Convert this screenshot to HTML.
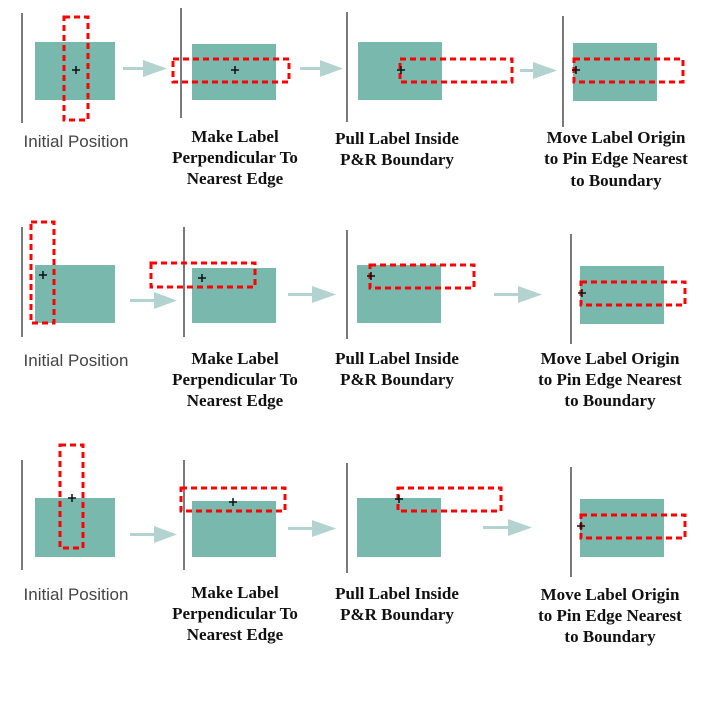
<!DOCTYPE html>
<html><head><meta charset="utf-8"><style>
html,body{margin:0;padding:0;background:#fff;}
svg{display:block;}
.b{stroke:#7a7a7a;stroke-width:2;}
.r{fill:#78b8ad;}
.d{fill:none;stroke:#ff0000;stroke-width:3;stroke-dasharray:6 4;}
.p{stroke:#111;stroke-width:1.5;}
.a{fill:#b3d3d1;}
.s{font-family:"Liberation Sans",sans-serif;font-size:17px;fill:#444;text-anchor:middle;}
.t{font-family:"Liberation Serif",serif;font-weight:bold;font-size:17px;fill:#111;text-anchor:middle;}
</style></head><body>
<svg width="713" height="713" viewBox="0 0 713 713" xmlns="http://www.w3.org/2000/svg">
<defs>
<g id="plus"><line class="p" x1="-4" y1="0" x2="4" y2="0"/><line class="p" x1="0" y1="-4" x2="0" y2="4"/></g>
</defs>
<!-- Row 1 -->
<line class="b" x1="22" y1="13" x2="22" y2="123"/>
<rect class="r" x="35" y="42" width="80" height="58"/>
<rect class="d" x="64" y="17" width="24" height="103"/>
<use href="#plus" x="76" y="70"/>
<rect class="a" x="123" y="67" width="21" height="3"/><polygon class="a" points="143,60 167,68.5 143,77"/>

<line class="b" x1="181" y1="8" x2="181" y2="118"/>
<rect class="r" x="192" y="44" width="84" height="56"/>
<rect class="d" x="173" y="59" width="116" height="23"/>
<use href="#plus" x="235" y="70"/>
<rect class="a" x="300" y="67" width="21" height="3"/><polygon class="a" points="320,60 343,68.5 320,77"/>

<line class="b" x1="347" y1="12" x2="347" y2="122"/>
<rect class="r" x="358" y="42" width="84" height="58"/>
<rect class="d" x="400" y="59" width="112" height="23"/>
<use href="#plus" x="401" y="70"/>
<rect class="a" x="520" y="69" width="16" height="3"/><polygon class="a" points="533,62 557,70.5 533,79"/>

<line class="b" x1="563" y1="16" x2="563" y2="127"/>
<rect class="r" x="573" y="43" width="84" height="58"/>
<rect class="d" x="574" y="59" width="109" height="23"/>
<use href="#plus" x="576" y="70"/>

<text class="s" x="76" y="147">Initial Position</text>
<text class="t" x="235" y="142">Make Label</text>
<text class="t" x="235" y="163">Perpendicular To</text>
<text class="t" x="235" y="184">Nearest Edge</text>
<text class="t" x="397" y="144">Pull Label Inside</text>
<text class="t" x="397" y="165">P&amp;R Boundary</text>
<text class="t" x="616" y="143">Move Label Origin</text>
<text class="t" x="616" y="164">to Pin Edge Nearest</text>
<text class="t" x="616" y="186">to Boundary</text>

<!-- Row 2 -->
<line class="b" x1="22" y1="227" x2="22" y2="337"/>
<rect class="r" x="35" y="265" width="80" height="58"/>
<rect class="d" x="31" y="222" width="23" height="101"/>
<use href="#plus" x="43" y="275"/>
<rect class="a" x="130" y="299" width="25" height="3"/><polygon class="a" points="154,292 177,300.5 154,309"/>

<line class="b" x1="184" y1="227" x2="184" y2="337"/>
<rect class="r" x="192" y="268" width="84" height="55"/>
<rect class="d" x="151" y="263" width="104" height="24"/>
<use href="#plus" x="202" y="278"/>
<rect class="a" x="288" y="293" width="25" height="3"/><polygon class="a" points="312,286 336,294.5 312,303"/>

<line class="b" x1="347" y1="230" x2="347" y2="339"/>
<rect class="r" x="357" y="265" width="84" height="58"/>
<rect class="d" x="370" y="265" width="104" height="23"/>
<use href="#plus" x="371" y="276"/>
<rect class="a" x="494" y="293" width="25" height="3"/><polygon class="a" points="518,286 542,294.5 518,303"/>

<line class="b" x1="571" y1="234" x2="571" y2="344"/>
<rect class="r" x="580" y="266" width="84" height="58"/>
<rect class="d" x="581" y="282" width="104" height="23"/>
<use href="#plus" x="582" y="293"/>

<text class="s" x="76" y="366">Initial Position</text>
<text class="t" x="235" y="364">Make Label</text>
<text class="t" x="235" y="385">Perpendicular To</text>
<text class="t" x="235" y="406">Nearest Edge</text>
<text class="t" x="397" y="364">Pull Label Inside</text>
<text class="t" x="397" y="385">P&amp;R Boundary</text>
<text class="t" x="610" y="364">Move Label Origin</text>
<text class="t" x="610" y="385">to Pin Edge Nearest</text>
<text class="t" x="610" y="406">to Boundary</text>

<!-- Row 3 -->
<line class="b" x1="22" y1="460" x2="22" y2="570"/>
<rect class="r" x="35" y="498" width="80" height="59"/>
<rect class="d" x="60" y="445" width="23" height="103"/>
<use href="#plus" x="72" y="498"/>
<rect class="a" x="130" y="533" width="25" height="3"/><polygon class="a" points="154,526 177,534.5 154,543"/>

<line class="b" x1="184" y1="460" x2="184" y2="570"/>
<rect class="r" x="192" y="501" width="84" height="56"/>
<rect class="d" x="181" y="488" width="104" height="23"/>
<use href="#plus" x="233" y="502"/>
<rect class="a" x="288" y="527" width="25" height="3"/><polygon class="a" points="312,520 336,528.5 312,537"/>

<line class="b" x1="347" y1="463" x2="347" y2="573"/>
<rect class="r" x="357" y="498" width="84" height="59"/>
<rect class="d" x="398" y="488" width="103" height="23"/>
<use href="#plus" x="399" y="499"/>
<rect class="a" x="483" y="526" width="26" height="3"/><polygon class="a" points="508,519 532,527.5 508,536"/>

<line class="b" x1="571" y1="467" x2="571" y2="577"/>
<rect class="r" x="580" y="499" width="84" height="58"/>
<rect class="d" x="581" y="515" width="104" height="23"/>
<use href="#plus" x="581" y="526"/>

<text class="s" x="76" y="600">Initial Position</text>
<text class="t" x="235" y="598">Make Label</text>
<text class="t" x="235" y="619">Perpendicular To</text>
<text class="t" x="235" y="640">Nearest Edge</text>
<text class="t" x="397" y="599">Pull Label Inside</text>
<text class="t" x="397" y="620">P&amp;R Boundary</text>
<text class="t" x="610" y="600">Move Label Origin</text>
<text class="t" x="610" y="621">to Pin Edge Nearest</text>
<text class="t" x="610" y="642">to Boundary</text>
</svg>
</body></html>
